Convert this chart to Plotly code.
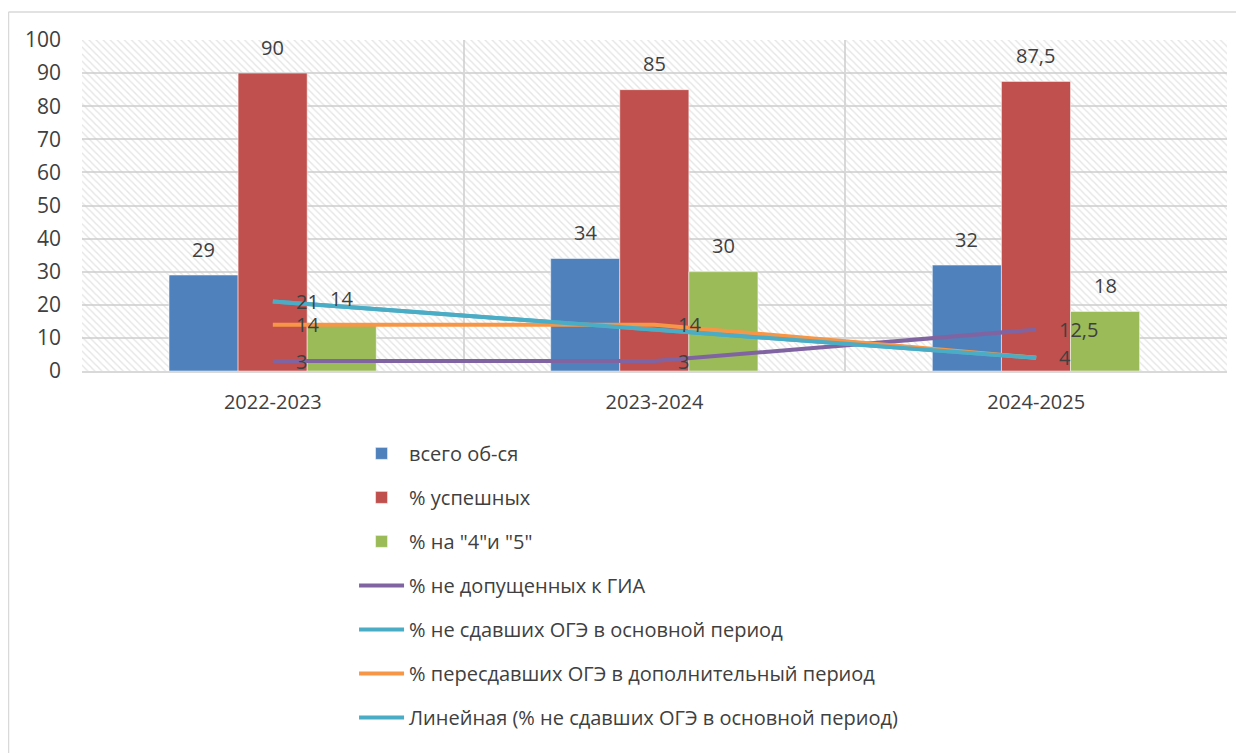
import numpy as np
import plotly.graph_objects as go

categories = ["2022-2023", "2023-2024", "2024-2025"]
total = [29, 34, 32]
success = [90, 85, 87.5]
good = [14, 30, 18]
not_admitted = [3, 3, 12.5]
failed_main = [21, 12.5, 4]
retook = [14, 14, 4]
y_ticks = [0, 10, 20, 30, 40, 50, 60, 70, 80, 90, 100]

names = ["всего об-ся", "% успешных", "% на \"4\"и \"5\"", "% не допущенных к ГИА",
         "% не сдавших ОГЭ в основной период", "% пересдавших ОГЭ в дополнительный период",
         "Линейная (% не сдавших ОГЭ в основной период)"]

FONT = "Open Sans"
TXT = "#404040"
FS = 20


def fmt(v):
    return f"{v:g}".replace(".", ",")


fig = go.Figure()

# hatched background
fig.add_trace(go.Bar(x=categories, y=[max(y_ticks)] * len(categories), width=1,
                     marker=dict(color="rgba(0,0,0,0)", line=dict(width=0),
                                 pattern=dict(shape="\\", fgcolor="#CCCCCC", size=5, solidity=0.28)),
                     showlegend=False, hoverinfo="skip"))

annotations = []
bw = 0.181
for vals, col, off, nm in [(total, "#4F81BD", -0.272, names[0]),
                           (success, "#C0504D", -0.091, names[1]),
                           (good, "#9BBB59", 0.090, names[2])]:
    fig.add_trace(go.Bar(x=categories, y=vals, width=bw, offset=off, name=nm,
                         marker=dict(color=col, line=dict(color="white", width=0.5)),
                         legendgroup=nm, hoverinfo="skip"))
    for i, v in enumerate(vals):
        annotations.append(dict(x=i + off + bw / 2, y=v, xref="x", yref="y", text=fmt(v),
                                showarrow=False, yanchor="middle", xanchor="center", yshift=26,
                                font=dict(size=FS, color=TXT, family=FONT)))

xi = np.arange(len(categories))
slope, inter = np.polyfit(xi, failed_main, 1)
trend = slope * xi + inter

lines = [(not_admitted, "#8064A2", names[3], [True, True, True]),
         (failed_main, "#4BACC6", names[4], [True, False, False]),
         (retook, "#F79646", names[5], [True, True, True]),
         (list(trend), "#4BACC6", names[6], [False, False, False])]
for vals, col, nm, show in lines:
    fig.add_trace(go.Scatter(x=categories, y=vals, name=nm, mode="lines",
                             line=dict(color=col, width=4), legendgroup=nm,
                             hoverinfo="skip"))
    for i, v in enumerate(vals):
        if show[i]:
            annotations.append(dict(x=i, y=v, xref="x", yref="y", text=fmt(v),
                                    showarrow=False, yanchor="middle", xanchor="left", xshift=21,
                                    font=dict(size=FS, color=TXT, family=FONT)))

fig.update_layout(
    width=1236, height=745, barmode="overlay",
    margin=dict(l=74, r=17, t=32, b=382),
    plot_bgcolor="white", paper_bgcolor="white",
    font=dict(family=FONT, size=FS, color=TXT),
    showlegend=True,
    legend=dict(x=0.2376, y=-0.19, xanchor="left", yanchor="top",
                font=dict(size=FS, color=TXT, family=FONT),
                tracegroupgap=15, itemwidth=45, traceorder="grouped"),
    xaxis=dict(type="category", tickson="boundaries", showgrid=True, gridcolor="#D9D9D9",
               gridwidth=1.5, ticks="", showline=True, linecolor="#D9D9D9", linewidth=1.5,
               tickfont=dict(size=FS, color=TXT), ticklabelstandoff=12),
    yaxis=dict(range=[0, 100], tickvals=y_ticks, showgrid=True, gridcolor="#D9D9D9", gridwidth=1.5,
               zeroline=False, ticks="", tickfont=dict(size=FS + 1, color=TXT), ticklabelstandoff=20),
    annotations=annotations,
    shapes=[dict(type="line", xref="paper", yref="paper", x0=-0.0642, x1=-0.0642, y0=-1.2, y1=1.0846,
                 line=dict(color="#D9D9D9", width=1.5)),
            dict(type="line", xref="paper", yref="paper", x0=-0.0642, x1=1.1, y0=1.0846, y1=1.0846,
                 line=dict(color="#D9D9D9", width=1.5))],
)

fig.write_html("out.html")
